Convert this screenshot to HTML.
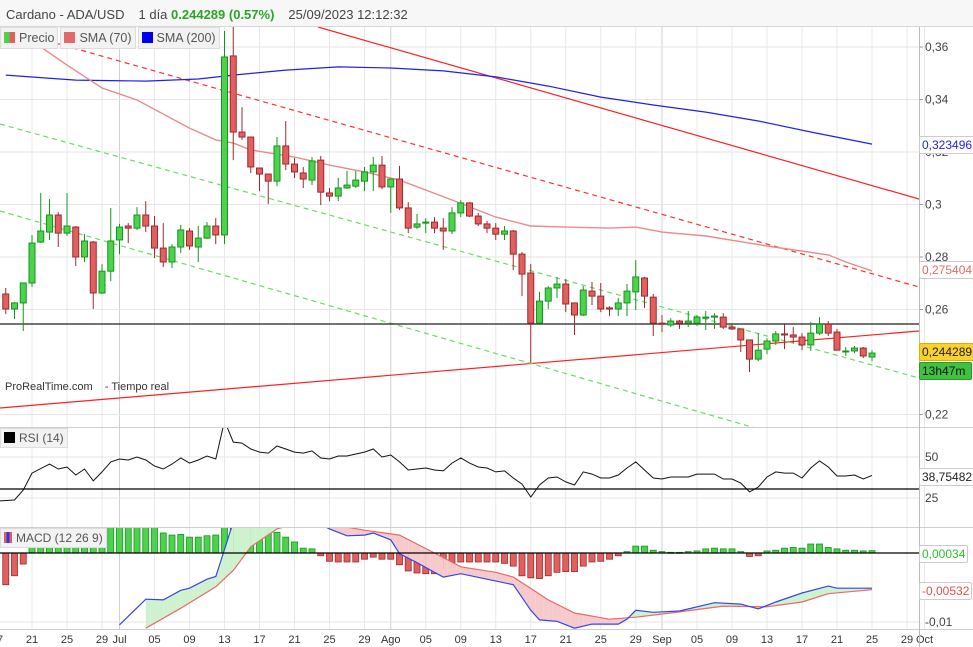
<!DOCTYPE html>
<html><head><meta charset="utf-8">
<style>
body{margin:0;background:#fff;font-family:"Liberation Sans",sans-serif;}
#wrap{position:relative;width:973px;height:647px;overflow:hidden;background:#fff;}
.hdr{position:absolute;left:0;top:0;width:973px;height:26px;background:#f7f7f7;border-bottom:1px solid #d8d8d8;font-size:13px;color:#444;line-height:29px;}
.legrow{position:absolute;left:0;top:27px;display:flex;gap:2px;z-index:2;}
.leg{height:20px;background:#f2f2f2;border:1px solid #ddd;font-size:12.5px;color:#555;line-height:20px;padding:0 3px 0 3px;white-space:nowrap;}
.leg2{position:absolute;left:0;height:18px;background:#f2f2f2;border:1px solid #ddd;font-size:12px;color:#555;line-height:18px;padding:0 3px;white-space:nowrap;z-index:2;}
.sw{display:inline-block;width:11px;height:11px;vertical-align:-1px;margin-right:4px;}
.box{position:absolute;left:919px;height:16px;font-size:12px;line-height:16px;padding:0 2px;border:1px solid #ccc;border-radius:2px;background:#fff;}
</style></head><body>
<div id="wrap">
<div class="hdr"><span style="margin-left:6px">Cardano - ADA/USD</span><span style="margin-left:14px">1 día</span> <span style="color:#2aa52a;font-weight:bold">0.244289 (0.57%)</span><span style="margin-left:14px">25/09/2023 12:12:32</span></div>
<div class="legrow">
<div class="leg"><span class="sw" style="background:linear-gradient(90deg,#4cd24c 50%,#e06060 50%)"></span>Precio</div>
<div class="leg"><span class="sw" style="background:#e06a6a"></span>SMA (70)</div>
<div class="leg"><span class="sw" style="background:#0000ee"></span>SMA (200)</div>
</div>
<svg id="svg" width="973" height="647" style="position:absolute;left:0;top:0">
<defs>
<clipPath id="cp"><rect x="0" y="27" width="919" height="400"/></clipPath>
<clipPath id="cr"><rect x="0" y="428" width="919" height="99"/></clipPath>
<clipPath id="cm"><rect x="0" y="528" width="919" height="101"/></clipPath>
</defs>
<g id="grid"></g>
<g id="price" clip-path="url(#cp)"></g>
<g id="rsi" clip-path="url(#cr)"></g>
<g id="macd" clip-path="url(#cm)"></g>
<g id="axes"></g>
</svg>
<div style="position:absolute;left:5px;top:381px;font-size:11px;color:#333">ProRealTime.com&nbsp;&nbsp;&nbsp;&nbsp;- Tiempo real</div>
<div class="leg2" style="top:428px"><span class="sw" style="background:#000"></span>RSI (14)</div>
<div class="leg2" style="top:528px"><span class="sw" style="background:linear-gradient(90deg,#e06060 33%,#3333ee 33%,#3333ee 66%,#e06060 66%);width:8px"></span>MACD (12 26 9)</div>
<div class="box" style="top:136px;color:#2222ee">0,323496</div>
<div class="box" style="top:261px;color:#e06a6a">0,275404</div>
<div class="box" style="top:343px;background:#f8d030;border-color:#e0b000;color:#222">0,244289</div>
<div class="box" style="top:362px;background:#3fc23f;border-color:#2a9a2a;color:#111;width:47px">13h47m</div>
<div class="box" style="top:468px;color:#222">38,75482</div>
<div class="box" style="top:545px;color:#2fbf2f">0,00034</div>
<div class="box" style="top:582px;color:#e05050">-0,00532</div>
</div>
<script>
// ---- data (days from Jun 21 2023) ----
const candleStartDay = -3;
const opens = [.2659,.2602,.2625,.2701,.2857,.2895,.2960,.2891,.2914,.2800,
.2857,.2663,.2746,.2865,.2918,.2910,.2960,.2918,.2834,.2781,
.2838,.2899,.2838,.2872,.2918,.2884,.3566,.3276,.3257,.3139,
.3116,.3089,.3223,.3154,.3120,.3093,.3169,.3044,.3032,.3063,
.3070,.3089,.3124,.3150,.3067,.3097,.2987,.2914,.2929,.2933,
.2910,.2899,.2968,.3006,.2956,.2926,.2910,.2887,.2899,.2811,
.2739,.2548,.2632,.2682,.2697,.2625,.2579,.2670,.2651,.2606,
.2602,.2625,.2667,.2720,.2647,.2548,.2541,.2556,.2548,.2548,
.2571,.2571,.2571,.2533,.2526,.2484,.2411,.2449,.2480,.2507,
.2503,.2495,.2465,.2510,.2544,.2514,.2442,.2442,.2453,.2419];
const highs = [.2682,.2628,.2701,.2884,.3044,.3021,.2971,.3044,.2918,.2887,
.2861,.2773,.2987,.2926,.2929,.2990,.3013,.2956,.2929,.2849,
.2922,.2910,.2918,.2933,.2948,.3661,.3700,.3371,.3257,.3139,
.3116,.3257,.3318,.3177,.3143,.3181,.3185,.3063,.3101,.3128,
.3128,.3143,.3181,.3185,.3097,.3147,.3009,.2964,.2948,.2952,
.2948,.2990,.3017,.3009,.2968,.2937,.2929,.2918,.2903,.2819,
.2773,.2667,.2689,.2724,.2716,.2625,.2689,.2705,.2701,.2613,
.2644,.2697,.2788,.2724,.2659,.2579,.2567,.2560,.2594,.2579,
.2594,.2586,.2586,.2544,.2526,.2484,.2510,.2491,.2518,.2548,
.2533,.2510,.2552,.2571,.2556,.2526,.2457,.2461,.2457,.2445];
const lows = [.2583,.2564,.2518,.2686,.2853,.2865,.2838,.2880,.2766,.2781,
.2602,.2659,.2708,.2811,.2853,.2903,.2895,.2796,.2762,.2758,
.2815,.2827,.2781,.2868,.2849,.2849,.3169,.3246,.3120,.3051,
.3002,.3070,.3131,.3101,.3063,.3074,.2998,.3013,.3013,.3059,
.3063,.3051,.3051,.3059,.2968,.2979,.2891,.2907,.2891,.2891,
.2827,.2887,.2952,.2952,.2918,.2891,.2865,.2865,.2750,.2651,
.2396,.2548,.2602,.2644,.2590,.2503,.2575,.2617,.2590,.2575,
.2575,.2575,.2598,.2606,.2499,.2514,.2533,.2526,.2533,.2537,
.2522,.2526,.2526,.2522,.2438,.2362,.2403,.2430,.2465,.2449,
.2472,.2445,.2442,.2503,.2499,.2445,.2423,.2434,.2415,.2403];
const closes = [.2602,.2625,.2701,.2853,.2899,.2960,.2891,.2918,.2800,.2861,
.2663,.2746,.2861,.2914,.2910,.2960,.2918,.2834,.2781,.2838,
.2903,.2842,.2872,.2918,.2884,.3562,.3276,.3257,.3143,.3116,
.3089,.3223,.3154,.3124,.3097,.3166,.3047,.3032,.3063,.3074,
.3093,.3124,.3150,.3067,.3097,.2987,.2910,.2926,.2933,.2910,
.2899,.2968,.3006,.2956,.2926,.2910,.2887,.2899,.2811,.2735,
.2548,.2632,.2682,.2697,.2621,.2579,.2674,.2651,.2602,.2602,
.2625,.2670,.2724,.2651,.2548,.2544,.2556,.2548,.2556,.2571,
.2571,.2575,.2533,.2526,.2484,.2411,.2445,.2480,.2507,.2503,
.2495,.2465,.2510,.2544,.2510,.2445,.2442,.2453,.2423,.2434];
const sma200Days = [-3,5,13,19,23,29,35,41,47,53,59,65,71,77,83,89,96];
const sma200Vals = [.3493,.3474,.3470,.3478,.3493,.3512,.3524,.3520,.3509,.3486,.3451,.3409,.3379,.3352,.3318,.3276,.3230];
const sma70Days = [1,4,8,12,18,21,23,25,30,34,38,42,48,53,57,61,66,69,72,77,84,91,93,96];
const sma70Vals = [.3600,.3531,.3444,.3398,.3291,.3246,.3234,.3208,.3181,.3150,.3124,.3093,.3017,.2952,.2918,.2914,.2910,.2914,.2895,.2880,.2842,.2808,.2781,.2747];
const rsiDays = [-4,-2,-1,0,2,3,4,5,6,7,8,9,10,11,12,13,14,15,16,17,18,19,20,21,22,23,24,25,26,27,28,29,30,31,32,33,34,35,36,37,38,39,40,41,42,43,44,45,46,47,48,49,50,51,52,53,54,55,56,57,58,59,60,61,62,63,64,65,66,67,68,69,70,71,72,73,74,75,76,77,78,79,80,81,82,83,84,85,86,87,88,89,90,91,92,93,94,95,96];
const rsiVals = [23.2,23.8,29.9,40.2,45.7,42.7,43.9,39.0,42.7,35.4,40.9,47.0,48.8,48.2,50,48.2,44.5,42.7,45.7,49.4,46.3,48.2,50.6,48.8,72,59.1,58.5,54.9,53.0,52.4,56.7,54.9,53.0,52.4,53.7,49.4,48.8,50.6,50.6,51.8,53.0,54.9,50,51.2,47.0,42.1,42.7,43.3,42.1,41.5,46.3,49.4,46.3,43.9,43.3,40.9,41.5,37.2,33.5,25.6,32.9,37.2,37.8,34.8,32.9,40.9,39.6,37.2,37.2,39.0,43.3,47.0,42.1,37.2,36.6,37.8,37.8,37.8,39.6,39.6,39.6,36.6,36.6,34.1,28.7,31.7,37.8,40.9,40.2,40.2,37.2,43.3,47.6,43.9,38.4,38.4,39.0,36.6,38.75];
const rsiLevel = 30.5;
const histStartDay = -3;
const histVals = [-.0046,-.0033,-.0016,.0009,.004,.004,.004,.004,.004,.004,.004,.004,.0045,.0045,.0045,.0045,.0045,.0045,.0029,.0026,.0027,.0023,.0023,.0025,.0026,.006,.006,.006,.006,.006,.006,.0030,.0023,.0016,.0007,.0006,-.0004,-.0012,-.0013,-.0013,-.0013,-.0009,-.0006,-.0009,-.0009,-.0017,-.0026,-.0029,-.0030,-.0030,-.0022,-.0014,-.0013,-.0013,-.0013,-.0013,-.0013,-.0015,-.0019,-.0033,-.0036,-.0037,-.0033,-.0028,-.0027,-.0027,-.0019,-.0013,-.0012,-.0009,-.0004,.0002,.0010,.0010,.0004,.0002,.0001,.0001,.0002,.0003,.0006,.0007,.0006,.0006,.0002,-.0005,-.0004,.0003,.0004,.0007,.0008,.0007,.0013,.0013,.0008,.0006,.0004,.0004,.0003,.00034];
const macdDays = [10,13,15,17,18,20,21,22,23,25,28,31,34,36,38,39,41,42,44,47,49,52,55,57,58,60,62,64,67,68,69,71,74,78,81,83,85,88,91,92,94,96];
const macdVals = [-.0104,-.0067,-.0068,-.0054,-.0051,-.0038,-.0034,.0005,.0045,.006,.007,.0055,.0035,.0025,.0026,.0029,.0019,-.0001,-.0014,-.0035,-.0030,-.0038,-.0046,-.0083,-.0097,-.0099,-.0109,-.0103,-.0103,-.0096,-.0083,-.0086,-.0084,-.0072,-.0074,-.0081,-.0071,-.0058,-.0048,-.0051,-.0051,-.0051];
const signalDays = [13,17,21,23,25,28,31,34,38,42,46,49,53,55,59,62,66,69,73,79,84,88,91,96];
const signalVals = [-.0109,-.0080,-.0049,-.0025,.0009,.0035,.0045,.0042,.0033,.0026,0,-.0020,-.0028,-.0035,-.0068,-.0087,-.0096,-.0093,-.0087,-.0077,-.0078,-.0071,-.0059,-.00532];
const priceTicks = [0.36,0.34,0.32,0.30,0.28,0.26,0.22];
const priceTickLabels = ["0,36","0,34","0,32","0,3","0,28","0,26","0,22"];
const dateDays = [-4,0,4,8,10,14,18,22,26,30,34,38,41,45,49,53,57,61,65,69,72,76,80,84,88,92,96,100,102];
const dateLabels = ["17","21","25","29","Jul","05","09","13","17","21","25","29","Ago","05","09","13","17","21","25","29","Sep","05","09","13","17","21","25","29","Oct"];
const monthDays = [10,41,72];

// ---- scales ----
const X = d => 32 + d*8.75;
const YP = p => 47 + (0.36 - p)*2625;
const YR = v => 457 + (50 - v)*1.64;
const YM = v => 553 - v*6900;
const NS = "http://www.w3.org/2000/svg";
function mk(tag, attrs, parent){const e=document.createElementNS(NS,tag);for(const k in attrs)e.setAttribute(k,attrs[k]);parent.appendChild(e);return e;}
const grid=document.getElementById('grid'), price=document.getElementById('price'), rsi=document.getElementById('rsi'), macd=document.getElementById('macd'), axes=document.getElementById('axes');

// grid
dateDays.forEach((d,i)=>{
  const ln=mk('line',{x1:X(d),x2:X(d),y1:27,y2:629,stroke:monthDays.includes(d)?'#d0d0d0':'#e8e8e8','stroke-width':1},grid);
  
  
  const t=mk('text',{x:X(d),y:643,'font-size':11,fill:'#333','text-anchor':'middle','font-family':'Liberation Sans'},axes);
  t.textContent=dateLabels[i];
  
  
});
priceTicks.forEach((p,i)=>{
  const ln=mk('line',{x1:0,x2:919,y1:YP(p),y2:YP(p),stroke:'#e6e6e6'},grid);
  
  
  mk('line',{x1:919,x2:923,y1:YP(p),y2:YP(p),stroke:'#999'},axes);
  const t=mk('text',{x:925,y:YP(p)+4,'font-size':12,fill:'#444','font-family':'Liberation Sans'},axes);
  t.textContent=priceTickLabels[i];
  
  
});
[50,25].forEach(v=>{mk('line',{x1:0,x2:919,y1:YR(v),y2:YR(v),stroke:'#e6e6e6'},grid);
  const t=mk('text',{x:925,y:YR(v)+4,'font-size':12,fill:'#444','font-family':'Liberation Sans'},axes);t.textContent=String(v);
  
  });
mk('line',{x1:0,x2:919,y1:YM(-0.01),y2:YM(-0.01),stroke:'#e6e6e6'},grid);
{const t=mk('text',{x:925,y:YM(-0.01)+4,'font-size':12,fill:'#444','font-family':'Liberation Sans'},axes);t.textContent='-0,01';

}
// panel separators & axis
mk('line',{x1:0,x2:973,y1:427.5,y2:427.5,stroke:'#cfcfcf'},axes);
mk('line',{x1:0,x2:973,y1:527.5,y2:527.5,stroke:'#cfcfcf'},axes);
mk('line',{x1:0,x2:973,y1:629.5,y2:629.5,stroke:'#cfcfcf'},axes);
mk('line',{x1:919.5,x2:919.5,y1:27,y2:647,stroke:'#bbb'},axes);

// trend lines (drawn)
function line(x1,y1,x2,y2,st,dash,name){const l=mk('line',{x1,y1,x2,y2,stroke:st,'stroke-width':1.2},price);if(dash)l.setAttribute('stroke-dasharray',dash);
  
  }
line(-40,16,919,287,'#ff3030','5,4','resistance-dashed');
line(318,27,919,199,'#ff2020',null,'resistance-line');
line(0,408,919,331,'#ff2020',null,'support-line');
line(0,124,919,378,'#66dd66','5,4','channel-upper-dashed');
line(0,211,919,475,'#66dd66','5,4','channel-lower-dashed');
line(0,324,919,324,'#222',null,'horizontal-level');

// SMA lines
function poly(days,vals,ys,parent,color,w,name){
  const pts=days.map((d,i)=>X(d).toFixed(1)+','+ys(vals[i]).toFixed(1)).join(' ');
  const p=mk('polyline',{points:pts,fill:'none',stroke:color,'stroke-width':w},parent);
  
  
}
poly(sma200Days,sma200Vals,YP,price,'#2020ee',1.2,'sma200-line');
poly(sma70Days,sma70Vals,YP,price,'#ec8a8a',1.4,'sma70-line');

// candles
opens.forEach((o,i)=>{
  const d=candleStartDay+i, c=closes[i], up=c>=o, x=X(d);
  const col=up?'#4cd24c':'#e06060', bd=up?'#14961e':'#a0282d';
  const w=mk('line',{x1:x,x2:x,y1:YP(highs[i]),y2:YP(lows[i]),stroke:bd,'stroke-width':1},price);
  
  
  const top=YP(Math.max(o,c)), h=Math.max(1,YP(Math.min(o,c))-top);
  const r=mk('rect',{x:x-3,y:top,width:6,height:h,fill:col,stroke:bd,'stroke-width':1},price);
  
  
});

// RSI
poly(rsiDays,rsiVals,YR,rsi,'#111',1,'rsi-line');
mk('line',{x1:0,x2:919,y1:YR(rsiLevel),y2:YR(rsiLevel),stroke:'#000','stroke-width':1.3},rsi);

// MACD histogram
histVals.forEach((v,i)=>{
  const x=X(histStartDay+i), y0=YM(0), y1=YM(v);
  const r=mk('rect',{x:x-3,y:Math.min(y0,y1),width:6,height:Math.max(1,Math.abs(y1-y0)),fill:v>=0?'#4cd24c':'#e06060',stroke:v>=0?'#14961e':'#a0282d','stroke-width':0.8},macd);
  
  
});
// fill between macd & signal
function interp(days,vals,d){if(d<=days[0])return vals[0];for(let i=1;i<days.length;i++){if(d<=days[i]){const t=(d-days[i-1])/(days[i]-days[i-1]);return vals[i-1]+t*(vals[i]-vals[i-1]);}}return vals[vals.length-1];}
const d0=Math.max(macdDays[0],signalDays[0]), d1=96;
for(let d=d0; d<d1; d+=0.5){
  const m1=interp(macdDays,macdVals,d), s1=interp(signalDays,signalVals,d);
  const m2=interp(macdDays,macdVals,d+0.5), s2=interp(signalDays,signalVals,d+0.5);
  mk('polygon',{points:`${X(d)},${YM(m1)} ${X(d+0.5)},${YM(m2)} ${X(d+0.5)},${YM(s2)} ${X(d)},${YM(s1)}`,fill:(m1+m2-s1-s2)>=0?'#cdf2cd':'#f6caca',stroke:'none'},macd);
}
poly(signalDays,signalVals,YM,macd,'#e86a6a',1.2,'signal-line');
poly(macdDays,macdVals,YM,macd,'#3344ee',1.2,'macd-line');
mk('line',{x1:0,x2:919,y1:YM(0),y2:YM(0),stroke:'#000','stroke-width':1.3},macd);
</script>
</body></html>
